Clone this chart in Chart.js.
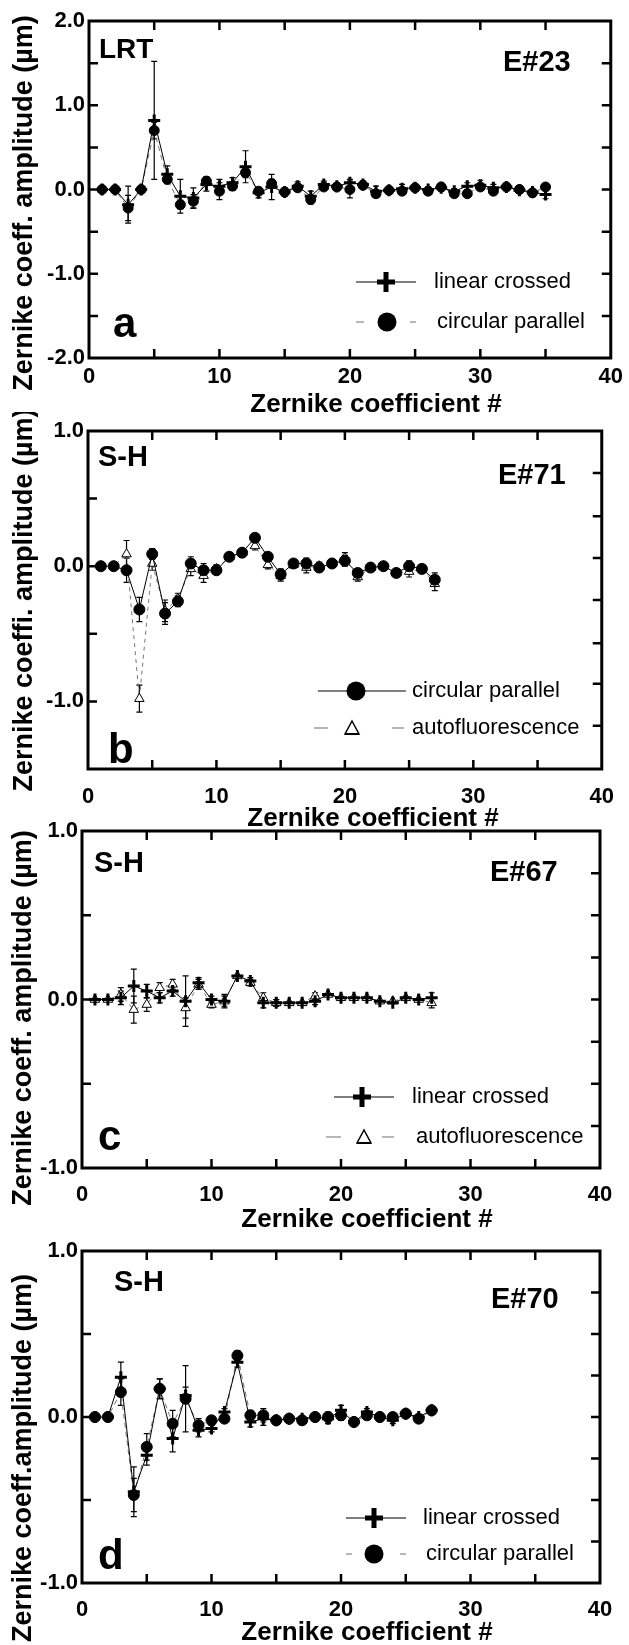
<!DOCTYPE html>
<html><head><meta charset="utf-8">
<script src="https://cdn.jsdelivr.net/npm/chart.js@4.4.0/dist/chart.umd.min.js"></script>
<style>
html,body{margin:0;padding:0;background:#fff;}
body{width:629px;height:1645px;position:relative;overflow:hidden;}
canvas{position:absolute;left:0;}
</style></head><body>
<canvas id="ca"></canvas>
<canvas id="cb"></canvas>
<canvas id="cc"></canvas>
<canvas id="cd"></canvas>
<script>
// ---------------- DATA ----------------
const xTickLabels = [0, 10, 20, 30, 40];
const xA = Array.from({length:35}, (_, i) => i + 1);
const xB = Array.from({length:27}, (_, i) => i + 1);

// Panel a (E#23, LRT)
const aCross    = [0,0,-0.18,0,0.82,0.18,-0.08,-0.1,0.06,0.04,0.08,0.27,-0.04,0.03,-0.03,0.04,-0.08,0.06,0.04,0.08,0.06,-0.02,-0.01,0.01,0.02,0.0,0.02,-0.02,0.04,0.05,0.02,0.03,-0.01,-0.03,-0.06];
const aCrossErr = [0.01,0.01,0.22,0.01,0.7,0.1,0.2,0.12,0.08,0.08,0.06,0.19,0.06,0.15,0.05,0.05,0.06,0.04,0.04,0.04,0.04,0.06,0.03,0.05,0.03,0.03,0.04,0.03,0.04,0.06,0.04,0.03,0.03,0.03,0.05];
const aCirc     = [0,0,-0.22,0,0.7,0.12,-0.18,-0.14,0.1,-0.02,0.04,0.2,-0.02,0.07,-0.03,0.02,-0.12,0.03,0.03,0.0,0.05,-0.05,-0.01,-0.02,0.02,-0.02,0.03,-0.05,-0.05,0.03,-0.02,0.03,0.0,-0.04,0.03];
const aCircErr  = [0.01,0.01,0.15,0.01,0.1,0.05,0.05,0.08,0.05,0.1,0.05,0.06,0.04,0.05,0.03,0.04,0.05,0.03,0.03,0.1,0.03,0.04,0.02,0.04,0.02,0.02,0.03,0.03,0.03,0.04,0.03,0.02,0.02,0.02,0.03];

// Panel b (E#71, S-H)
const bCirc    = [0,0,-0.03,-0.32,0.09,-0.35,-0.26,0.02,-0.03,-0.03,0.07,0.1,0.21,0.07,-0.06,0.02,0.02,-0.01,0.02,0.04,-0.05,-0.01,0.0,-0.05,0.0,-0.02,-0.1];
const bCircErr = [0.01,0.01,0.09,0.09,0.04,0.08,0.04,0.05,0.05,0.03,0.02,0.02,0.03,0.02,0.04,0.02,0.04,0.03,0.02,0.04,0.03,0.02,0.02,0.02,0.04,0.03,0.05];
const bTri     = [0,0,0.09,-0.98,0.02,-0.33,-0.24,-0.02,-0.07,-0.02,0.07,0.1,0.15,0.01,-0.07,0.01,-0.01,0.0,0.02,0.06,-0.08,-0.01,0.0,-0.05,-0.04,-0.02,-0.13];
const bTriErr  = [0.01,0.01,0.1,0.1,0.05,0.08,0.04,0.05,0.05,0.03,0.02,0.02,0.03,0.03,0.04,0.02,0.04,0.03,0.02,0.04,0.03,0.02,0.02,0.02,0.04,0.03,0.05];

// Panel c (E#67, S-H)
const cCross    = [0,0,0.01,0.08,0.05,0.01,0.05,-0.01,0.1,0.0,-0.01,0.14,0.11,-0.02,-0.02,-0.02,-0.02,-0.01,0.03,0.01,0.01,0.01,-0.01,-0.02,0.01,0.0,0.01];
const cCrossErr = [0.01,0.01,0.04,0.1,0.04,0.03,0.03,0.15,0.03,0.02,0.04,0.01,0.02,0.03,0.02,0.01,0.01,0.02,0.01,0.01,0.01,0.01,0.01,0.01,0.01,0.01,0.03];
const cTri      = [0,0,0.03,-0.06,-0.03,0.07,0.09,-0.05,0.09,-0.03,-0.01,0.14,0.1,0.01,-0.02,-0.02,-0.02,0.02,0.03,0.01,0.01,0.01,-0.01,-0.01,0.01,0.0,-0.02];
const cTriErr   = [0.01,0.01,0.04,0.08,0.04,0.03,0.03,0.06,0.03,0.02,0.03,0.01,0.02,0.03,0.02,0.01,0.01,0.02,0.01,0.01,0.01,0.01,0.01,0.01,0.01,0.01,0.03];

// Panel d (E#70, S-H)
const dCross    = [0,0,0.24,-0.45,-0.23,0.17,-0.13,0.13,-0.08,-0.07,0.03,0.33,-0.03,-0.01,-0.02,-0.01,-0.01,0.0,-0.01,0.04,-0.03,0.03,0.0,-0.02,0.02,0.0,0.04];
const dCrossErr = [0.01,0.01,0.09,0.15,0.06,0.06,0.08,0.05,0.04,0.02,0.02,0.03,0.03,0.04,0.01,0.01,0.01,0.02,0.03,0.03,0.01,0.02,0.01,0.02,0.02,0.01,0.02];
const dCirc     = [0,0,0.15,-0.47,-0.18,0.17,-0.04,0.11,-0.05,-0.02,-0.01,0.37,0.01,0.01,-0.02,-0.01,-0.02,0.0,0.0,0.01,-0.03,0.01,0.0,0.0,0.02,-0.01,0.04];
const dCircErr  = [0.01,0.01,0.08,0.1,0.08,0.06,0.08,0.2,0.04,0.02,0.02,0.03,0.03,0.04,0.01,0.01,0.01,0.02,0.03,0.03,0.01,0.02,0.01,0.02,0.02,0.01,0.02];

// minor/major tick positions
const xTickMarks = [5,10,15,20,25,30,35];
const aLeftTicks = [1.5,1,0.5,0,-0.5,-1,-1.5];
const aRightTicks = [1.5,1,0.5,0,-0.5,-1,-1.5];
const bLeftTicks = [0.5,0,-0.5,-1];
const bRightTicks = [0.69,0.37,0.06,-0.25,-0.57,-0.87,-1.18];
const cdLeftTicks = [0.5,0,-0.5];
const cdRightTicks = [0.75,0.5,0.25,0,-0.25,-0.5,-0.75];

// ---------------- STYLE / HELPERS ----------------
const FF = "'Liberation Sans', Arial, Helvetica, sans-serif";
const W = 629;

function pts(xs, ys){ return xs.map((x,i)=>({x:x, y:ys[i]})); }

function dsCross(xs, ys, err, dashed){
  return {data:pts(xs,ys), errors:err, showLine:true, tension:0,
    borderColor: dashed ? '#777' : '#000', borderWidth:1, borderDash: dashed ? [5,4] : [],
    pointStyle:'cross', pointRadius:6, pointBorderWidth:3, pointBorderColor:'#000', pointBackgroundColor:'#000'};
}
function dsCirc(xs, ys, err, dashed, r){
  return {data:pts(xs,ys), errors:err, showLine:true, tension:0,
    borderColor: dashed ? '#777' : '#000', borderWidth:1, borderDash: dashed ? [5,4] : [],
    pointStyle:'circle', pointRadius:r || 5, pointBorderWidth:1, pointBorderColor:'#000', pointBackgroundColor:'#000'};
}
function dsTri(xs, ys, err, dashed){
  return {data:pts(xs,ys), errors:err, showLine:true, tension:0,
    borderColor: dashed ? '#777' : '#000', borderWidth:1, borderDash: dashed ? [4,4] : [],
    pointStyle:'triangle', pointRadius:5.5, pointBorderWidth:1, pointBorderColor:'#000', pointBackgroundColor:'#fff'};
}

function drawMarker(ctx, type, x, y){
  ctx.save();
  ctx.setLineDash([]);
  ctx.strokeStyle='#000'; ctx.fillStyle='#000';
  if(type==='cross'){
    ctx.lineWidth=5;
    ctx.beginPath(); ctx.moveTo(x-9,y); ctx.lineTo(x+9,y); ctx.moveTo(x,y-10); ctx.lineTo(x,y+10); ctx.stroke();
  } else if(type==='circle'){
    ctx.beginPath(); ctx.arc(x,y,9.5,0,Math.PI*2); ctx.fill();
  } else if(type==='tri'){
    ctx.lineWidth=1.5; ctx.fillStyle='#fff';
    ctx.beginPath(); ctx.moveTo(x,y-7); ctx.lineTo(x+7,y+6); ctx.lineTo(x-7,y+6); ctx.closePath(); ctx.fill(); ctx.stroke();
    ctx.fillStyle='#000'; ctx.fillRect(x-7,y+5,14,2);
  }
  ctx.restore();
}

const panelPlugin = {
  id:'panel',
  beforeDatasetsDraw(chart, args, o){
    const ctx = chart.ctx, ys = chart.scales.y;
    ctx.save();
    ctx.strokeStyle='#000'; ctx.lineWidth=1.2; ctx.setLineDash([]);
    chart.data.datasets.forEach((ds, di)=>{
      if(!ds.errors) return;
      const meta = chart.getDatasetMeta(di);
      meta.data.forEach((el, i)=>{
        const v = ds.data[i].y, e = ds.errors[i];
        if(e < 0.015) return;
        const y1 = ys.getPixelForValue(v+e), y2 = ys.getPixelForValue(v-e);
        ctx.beginPath();
        ctx.moveTo(el.x, y1); ctx.lineTo(el.x, y2);
        ctx.moveTo(el.x-3, y1); ctx.lineTo(el.x+3, y1);
        ctx.moveTo(el.x-3, y2); ctx.lineTo(el.x+3, y2);
        ctx.stroke();
      });
    });
    ctx.restore();
  },
  afterDraw(chart, args, o){
    const ctx = chart.ctx, a = chart.chartArea, xs = chart.scales.x, ys = chart.scales.y;
    ctx.save();
    ctx.setLineDash([]);
    ctx.strokeStyle='#000';
    // frame
    ctx.lineWidth=3;
    ctx.strokeRect(a.left, a.top, a.right-a.left, a.bottom-a.top);
    // ticks (inward)
    ctx.lineWidth=2.5;
    const L = 9;
    ctx.beginPath();
    o.xTicks.forEach(v=>{
      const px = xs.getPixelForValue(v);
      ctx.moveTo(px, a.bottom); ctx.lineTo(px, a.bottom-L);
      ctx.moveTo(px, a.top); ctx.lineTo(px, a.top+L);
    });
    o.leftTicks.forEach(v=>{
      const py = ys.getPixelForValue(v);
      ctx.moveTo(a.left, py); ctx.lineTo(a.left+L, py);
    });
    o.rightTicks.forEach(v=>{
      const py = ys.getPixelForValue(v);
      ctx.moveTo(a.right, py); ctx.lineTo(a.right-L, py);
    });
    ctx.stroke();
    // texts
    ctx.fillStyle='#000';
    ctx.textBaseline='alphabetic';
    o.texts.forEach(t=>{
      ctx.font = t.font;
      ctx.textAlign = t.align || 'left';
      ctx.fillText(t.t, t.x, t.y);
    });
    // x title
    ctx.font = "bold 26px " + FF;
    ctx.textAlign='center'; ctx.textBaseline='middle';
    ctx.fillText('Zernike coefficient #', o.xTitle[0], o.xTitle[1]);
    // y title
    ctx.save();
    ctx.translate(o.yTitle[0], o.yTitle[1]);
    ctx.rotate(-Math.PI/2);
    ctx.font = "bold 27px " + FF;
    ctx.fillText(o.yTitle[2], 0, 0);
    ctx.restore();
    // legend
    o.legend.forEach(g=>{
      ctx.save();
      ctx.lineWidth=1.2;
      if(g.dashed){ ctx.strokeStyle='#888'; g.segs.forEach(s=>{ ctx.beginPath(); ctx.moveTo(s[0], g.y); ctx.lineTo(s[1], g.y); ctx.stroke(); }); }
      else { ctx.strokeStyle='#000'; ctx.beginPath(); ctx.moveTo(g.segs[0][0], g.y); ctx.lineTo(g.segs[0][1], g.y); ctx.stroke(); }
      ctx.restore();
      drawMarker(ctx, g.marker, g.mx, g.y);
      ctx.font = "22px " + FF;
      ctx.textAlign='left'; ctx.textBaseline='middle';
      ctx.fillStyle='#000';
      ctx.fillText(g.text, g.tx, g.y);
    });
    ctx.restore();
  }
};

function makePanel(id, P){
  const cv = document.getElementById(id);
  cv.width = W; cv.height = P.h;
  cv.style.top = P.top0 + 'px';
  cv.style.width = W + 'px'; cv.style.height = P.h + 'px';
  const yLabels = P.yLabels;
  return new Chart(cv, {
    type:'scatter',
    data:{datasets:P.datasets},
    plugins:[panelPlugin],
    options:{
      responsive:false, animation:false, devicePixelRatio:1,
      layout:{padding:{top:P.areaTop, right:W-P.areaRight, left:0, bottom:0}},
      plugins:{legend:{display:false}, tooltip:{enabled:false}, panel:P.panel},
      scales:{
        x:{type:'linear', min:0, max:40,
           grid:{display:false, drawTicks:false}, border:{display:false},
           ticks:{stepSize:10, autoSkip:false, maxRotation:0, padding:P.xPad, color:'#000',
                  font:{family:FF, size:22, weight:'bold'},
                  callback:(v)=> xTickLabels.includes(v) ? String(v) : ''},
           afterFit:(s)=>{ s.height = P.h - P.areaBottom; }},
        y:{type:'linear', min:P.ymin, max:P.ymax,
           grid:{display:false, drawTicks:false}, border:{display:false},
           ticks:{stepSize:1, autoSkip:false, padding:4, color:'#000',
                  font:{family:FF, size:22, weight:'bold'},
                  callback:(v)=> yLabels.includes(v) ? v.toFixed(1) : ''},
           afterFit:(s)=>{ s.width = P.areaLeft; }}
      }
    }
  });
}

// ---------------- PANELS ----------------
makePanel('ca', {
  top0:0, h:416, areaTop:21, areaBottom:358, areaLeft:89, areaRight:611, xPad:6,
  ymin:-2, ymax:2, yLabels:[2,1,0,-1,-2],
  datasets:[ dsCross(xA, aCross, aCrossErr, false), dsCirc(xA, aCirc, aCircErr, true, 5) ],
  panel:{
    xTicks:xTickMarks, leftTicks:aLeftTicks, rightTicks:aRightTicks,
    xTitle:[376, 405], yTitle:[25, 203, 'Zernike coeff. amplitude (\u00b5m)'],
    texts:[
      {t:'LRT', x:99, y:58, font:"bold 28px "+FF},
      {t:'E#23', x:503, y:71, font:"bold 29px "+FF},
      {t:'a', x:113, y:337, font:"bold 42px "+FF}
    ],
    legend:[
      {text:'linear crossed', tx:434, y:282, marker:'cross', mx:386, dashed:false, segs:[[356,416]]},
      {text:'circular parallel', tx:437, y:322, marker:'circle', mx:387, dashed:true, segs:[[356,364],[410,416]]}
    ]
  }
});

makePanel('cb', {
  top0:412, h:414, areaTop:19, areaBottom:357, areaLeft:88, areaRight:606, xPad:15,
  ymin:-1.5, ymax:1, yLabels:[1,0,-1],
  datasets:[ dsCirc(xB, bCirc, bCircErr, false, 5.5), dsTri(xB, bTri, bTriErr, true) ],
  panel:{
    xTicks:xTickMarks, leftTicks:bLeftTicks, rightTicks:bRightTicks,
    xTitle:[373, 407], yTitle:[25, 188, 'Zernike coeffi. amplitude (\u00b5m)'],
    texts:[
      {t:'S-H', x:98, y:54, font:"bold 29px "+FF},
      {t:'E#71', x:498, y:72, font:"bold 29px "+FF},
      {t:'b', x:108, y:351, font:"bold 42px "+FF}
    ],
    legend:[
      {text:'circular parallel', tx:412, y:279, marker:'circle', mx:356, dashed:false, segs:[[318,406]]},
      {text:'autofluorescence', tx:412, y:316, marker:'tri', mx:352, dashed:true, segs:[[314,328],[392,404]]}
    ]
  }
});

makePanel('cc', {
  top0:810, h:418, areaTop:21, areaBottom:358, areaLeft:82, areaRight:600, xPad:14,
  ymin:-1, ymax:1, yLabels:[1,0,-1],
  datasets:[ dsCross(xB, cCross, cCrossErr, false), dsTri(xB, cTri, cTriErr, true) ],
  panel:{
    xTicks:xTickMarks, leftTicks:cdLeftTicks, rightTicks:cdRightTicks,
    xTitle:[367, 410], yTitle:[24, 208, 'Zernike coeff. amplitude (\u00b5m)'],
    texts:[
      {t:'S-H', x:94, y:62, font:"bold 29px "+FF},
      {t:'E#67', x:490, y:71, font:"bold 29px "+FF},
      {t:'c', x:98, y:340, font:"bold 42px "+FF}
    ],
    legend:[
      {text:'linear crossed', tx:412, y:287, marker:'cross', mx:362, dashed:false, segs:[[334,394]]},
      {text:'autofluorescence', tx:416, y:327, marker:'tri', mx:364, dashed:true, segs:[[326,341],[382,394]]}
    ]
  }
});

makePanel('cd', {
  top0:1228, h:417, areaTop:23, areaBottom:355, areaLeft:82, areaRight:600, xPad:14,
  ymin:-1, ymax:1, yLabels:[1,0,-1],
  datasets:[ dsCross(xB, dCross, dCrossErr, false), dsCirc(xB, dCirc, dCircErr, true, 5.5) ],
  panel:{
    xTicks:xTickMarks, leftTicks:cdLeftTicks, rightTicks:cdRightTicks,
    xTitle:[367, 405], yTitle:[24, 230, 'Zernike coeff.amplitude (\u00b5m)'],
    texts:[
      {t:'S-H', x:114, y:63, font:"bold 29px "+FF},
      {t:'E#70', x:491, y:80, font:"bold 29px "+FF},
      {t:'d', x:98, y:341, font:"bold 42px "+FF}
    ],
    legend:[
      {text:'linear crossed', tx:423, y:290, marker:'cross', mx:374, dashed:false, segs:[[346,406]]},
      {text:'circular parallel', tx:426, y:326, marker:'circle', mx:374, dashed:true, segs:[[346,352],[400,406]]}
    ]
  }
});
</script>
</body></html>
